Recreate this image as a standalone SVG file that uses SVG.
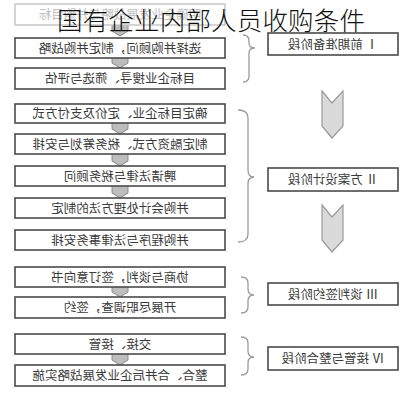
<svg xmlns="http://www.w3.org/2000/svg" width="420" height="400" viewBox="0 0 420 400">
<style>
.box{fill:#fff;stroke:#4a4a4a;stroke-width:1.6}
.faded{fill:#fff;stroke:#c4c4c4;stroke-width:1.4}
.t{font-family:"Noto Sans CJK SC","Liberation Serif",serif;font-size:12.5px;fill:#3a3a3a;text-anchor:middle}
.tf{fill:#c0c0c0}
.brace{fill:none;stroke:#9a9a9a;stroke-width:1.3}
.notch{fill:#bdbdbd;stroke:#8a8a8a;stroke-width:1}
.chev{fill:#dadada;stroke:#9a9a9a;stroke-width:1.2}
.title{font-family:"Noto Sans CJK SC",sans-serif;font-size:25.5px;font-weight:300;fill:#111}
</style>
<rect width="420" height="400" fill="#fff"/>
<g id="connectors">
<path class="notch" d="M112,24 H128 V31 L120,36 L112,31 Z"/>
<path class="notch" d="M112,57 H128 V63 L120,68 L112,63 Z"/>
<path class="notch" d="M112,122 H128 V129 L120,134 L112,129 Z"/>
<path class="notch" d="M112,153 H128 V161 L120,166 L112,161 Z"/>
<path class="notch" d="M112,185 H128 V193 L120,198 L112,193 Z"/>
<path class="notch" d="M112,286 H128 V292 L120,297 L112,292 Z"/>
<path class="notch" d="M112,353 H128 V360 L120,365 L112,360 Z"/>
<path class="brace" d="M243,35 Q249,35 249,41 V43 Q249,48 255,48 Q249,48 249,53 V76 Q249,82 243,82"/>
<path class="brace" d="M238,110 Q248,110 248,118 V170 Q248,177 254,177 Q248,177 248,184 V234 Q248,242 238,242"/>
<path class="brace" d="M241,277 Q248,277 248,283 V289 Q248,295 254,295 Q248,295 248,301 V307 Q248,313 241,313"/>
<path class="brace" d="M241,337 Q248,337 248,343 V351 Q248,357 254,357 Q248,357 248,363 V369 Q248,375 241,375"/>
<path class="chev" d="M322,91 L332,103 L343,91 V126 L332,138 L322,126 Z"/>
<path class="chev" d="M322,205 L332,217 L343,205 V240 L332,252 L322,240 Z"/>
</g>
<g id="step1"><rect class="faded" x="15" y="4" width="210" height="21"/><text class="t tf" transform="translate(120,19) scale(-1,1)">明确企业发展战略与并购目标</text></g>
<g id="step2"><rect class="box" x="15" y="38" width="210" height="20"/><text class="t" transform="translate(120,52.5) scale(-1,1)">选择并购顾问，制定并购战略</text></g>
<g id="step3"><rect class="box" x="15" y="68" width="210" height="21"/><text class="t" transform="translate(120,83) scale(-1,1)">目标企业搜寻、筛选与评估</text></g>
<g id="step4"><rect class="box" x="15" y="104" width="210" height="19"/><text class="t" transform="translate(120,118) scale(-1,1)">确定目标企业、定价及支付方式</text></g>
<g id="step5"><rect class="box" x="15" y="134" width="210" height="20"/><text class="t" transform="translate(120,148.5) scale(-1,1)">制定融资方式、税务筹划与安排</text></g>
<g id="step6"><rect class="box" x="15" y="166" width="210" height="20"/><text class="t" transform="translate(120,180.5) scale(-1,1)">聘请法律与税务顾问</text></g>
<g id="step7"><rect class="box" x="15" y="198" width="210" height="20"/><text class="t" transform="translate(120,212.5) scale(-1,1)">并购会计处理方法的制定</text></g>
<g id="step8"><rect class="box" x="15" y="230" width="210" height="20"/><text class="t" transform="translate(120,244.5) scale(-1,1)">并购程序与法律事务安排</text></g>
<g id="step9"><rect class="box" x="15" y="267" width="210" height="20"/><text class="t" transform="translate(120,281.5) scale(-1,1)">协商与谈判，签订意向书</text></g>
<g id="step10"><rect class="box" x="15" y="297" width="210" height="21"/><text class="t" transform="translate(120,312) scale(-1,1)">开展尽职调查，签约</text></g>
<g id="step11"><rect class="box" x="15" y="334" width="210" height="20"/><text class="t" transform="translate(120,348.5) scale(-1,1)">交接、接管</text></g>
<g id="step12"><rect class="box" x="15" y="365" width="210" height="21"/><text class="t" transform="translate(120,380) scale(-1,1)">整合、合并后企业发展战略实施</text></g>
<g id="stage1"><rect class="box" x="268" y="33" width="130" height="22"/><text class="t" transform="translate(333,48.5) scale(-1,1)">Ⅰ 前期准备阶段</text></g>
<g id="stage2"><rect class="box" x="268" y="168" width="130" height="23"/><text class="t" transform="translate(333,184) scale(-1,1)">Ⅱ 方案设计阶段</text></g>
<g id="stage3"><rect class="box" x="268" y="283" width="130" height="22"/><text class="t" transform="translate(333,298.5) scale(-1,1)">Ⅲ 谈判签约阶段</text></g>
<g id="stage4"><rect class="box" x="268" y="347" width="130" height="23"/><text class="t" transform="translate(333,363) scale(-1,1)">Ⅳ 接管与整合阶段</text></g>
<g id="title"><text class="title" x="57" y="30" textLength="308">国有企业内部人员收购条件</text></g>
</svg>
